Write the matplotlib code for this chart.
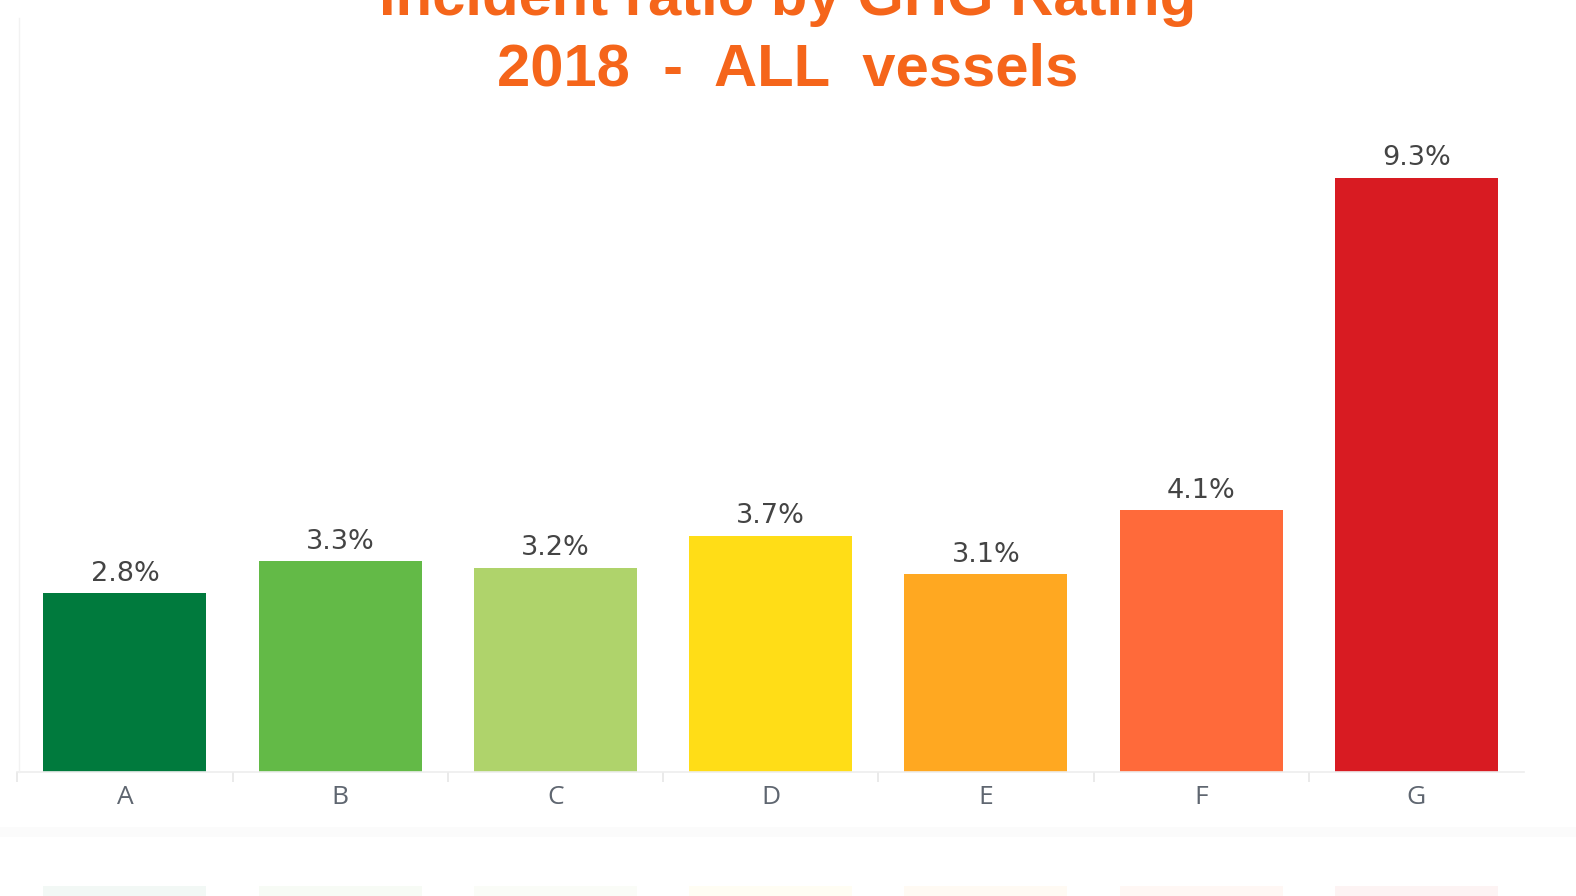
import matplotlib
matplotlib.use("Agg")
import matplotlib.pyplot as plt
import numpy as np

# data
ratings = ["A", "B", "C", "D", "E", "F", "G"]
ratios = [2.8, 3.3, 3.2, 3.7, 3.1, 4.1, 9.3]
colors = ["#007A3D", "#63BA47", "#AFD36B", "#FFDD17", "#FFA821", "#FF6A3A", "#D81B22"]
title_lines = ["Incident ratio by GHG Rating", "2018  -  ALL  vessels"]

fig = plt.figure(figsize=(15.76, 8.96), dpi=100)
ax = fig.add_axes([0.011, 0.138, 0.956, 0.785])

x = np.arange(len(ratings))
bars = ax.bar(x, ratios, width=0.757, color=colors)
ax.set_xlim(-0.5, len(ratings) - 0.5)
ax.set_ylim(0, 11)

# value labels
for xi, v in zip(x, ratios):
    ax.text(xi, v + 0.1, f"{v:.1f}%", ha="center", va="bottom",
            fontsize=19.5, color="#444444", family="DejaVu Sans")

# axes styling
for s in ["top", "right", "left"]:
    ax.spines[s].set_visible(False)
ax.spines["bottom"].set_color("#EDEDED")
ax.spines["bottom"].set_linewidth(1.2)
ax.set_yticks([])
ax.set_xticks(x)
ax.set_xticklabels(ratings, fontsize=19, color="#5F6670", family="Open Sans")
ax.tick_params(axis="x", which="major", length=0, pad=9)
ax.set_xticks(np.arange(-0.5, len(ratings) - 0.5, 1.0), minor=True)
ax.tick_params(axis="x", which="minor", length=7, color="#E6E6E6", width=1.2)

# faint left edge line running up to the top
fig.add_artist(plt.Line2D([0.012, 0.012], [0.138, 0.98], color="#F2F2F2", lw=1))

# title (top line partly cut off, as in the original)
fig.text(0.5, 1.0 - 15 / 896, title_lines[0], ha="center", va="baseline",
         fontsize=43, fontweight="bold", color="#F5651A", family="Liberation Sans")
fig.text(0.5, 1.0 - 86 / 896, title_lines[1], ha="center", va="baseline",
         fontsize=43, fontweight="bold", color="#F5651A", family="Liberation Sans")

# faint reflection below the chart
band = fig.add_axes([0.0, 0.066, 1.0, 0.011])
band.axis("off")
band.add_patch(plt.Rectangle((0, 0), 1, 1, color="#FBFBFB", transform=band.transAxes))
refl = fig.add_axes([0.011, 0.0, 0.956, 0.011])
refl.bar(x, [1] * len(ratings), width=0.757, color=colors, alpha=0.05)
refl.set_xlim(-0.5, len(ratings) - 0.5)
refl.set_ylim(0, 1)
refl.axis("off")

fig.savefig("out.png", dpi=100, facecolor="white")
